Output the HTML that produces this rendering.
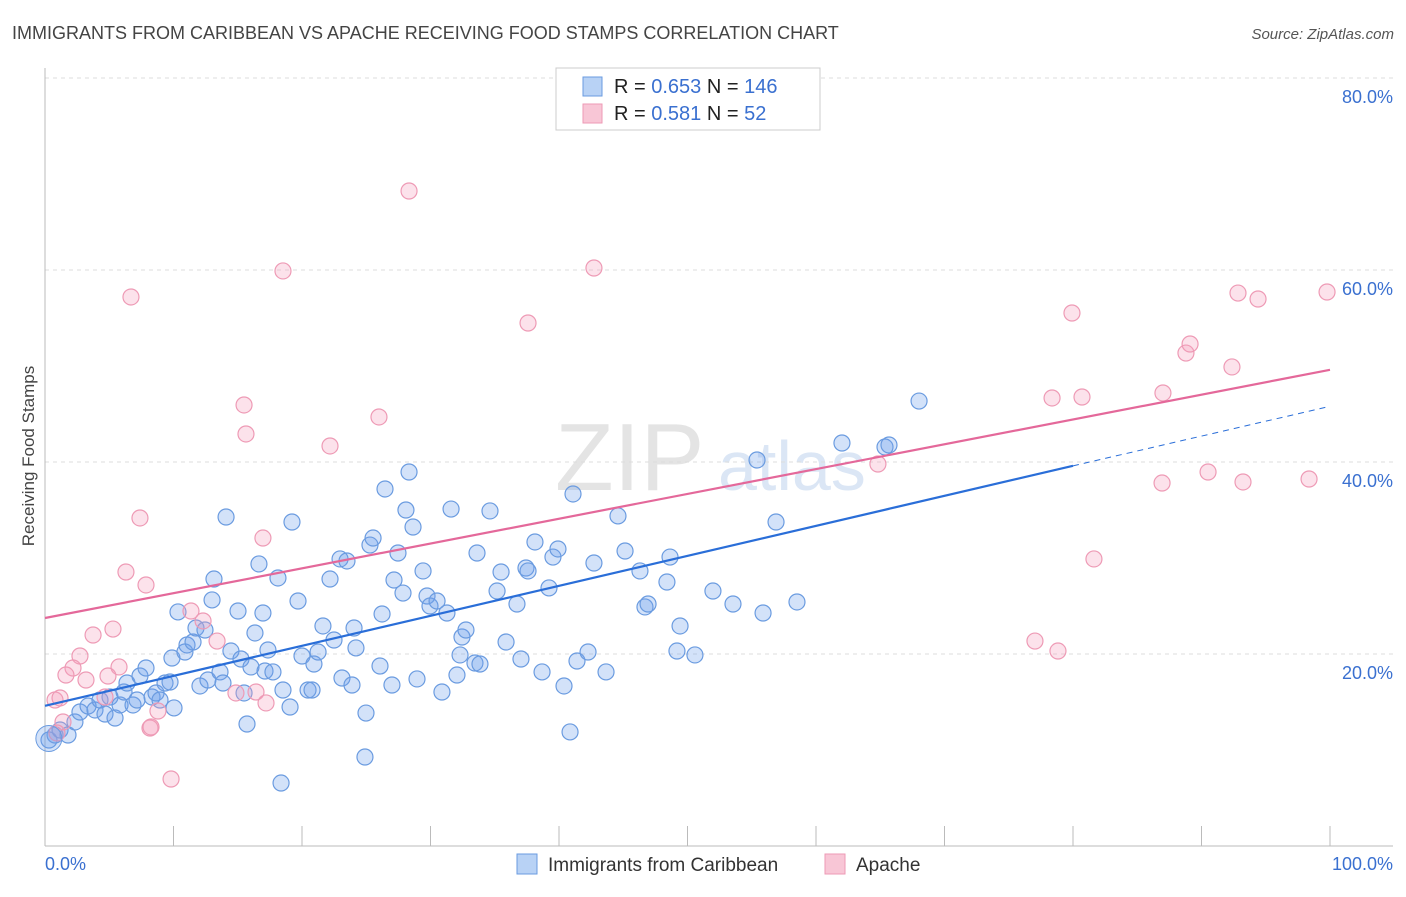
<!DOCTYPE html>
<html><head><meta charset="utf-8"><style>
body{margin:0;background:#fff;font-family:"Liberation Sans",sans-serif}
svg text{font-family:"Liberation Sans",sans-serif}
</style></head><body>
<svg id="c" width="1406" height="892" xmlns="http://www.w3.org/2000/svg">
<text x="12" y="39" font-size="18" fill="#444">IMMIGRANTS FROM CARIBBEAN VS APACHE RECEIVING FOOD STAMPS CORRELATION CHART</text>
<text x="1394" y="39" font-size="15" fill="#555" font-style="italic" text-anchor="end">Source: ZipAtlas.com</text>
<text transform="translate(34,456) rotate(-90)" font-size="17" fill="#444" text-anchor="middle">Receiving Food Stamps</text>
<text x="555" y="490" font-size="96" fill="#e4e4e4" font-family="Liberation Serif">ZIP</text>
<text x="718" y="490" font-size="70" fill="#dbe6f5">atlas</text>
<g id="grid"></g><g id="axes"></g><g id="pts"></g><g id="lines"></g>
<g>
<rect x="556" y="68" width="264" height="62" fill="#fff" stroke="#ccc"/>
<rect x="583" y="77" width="19" height="19" fill="#b8d2f5" stroke="#6a9be0"/>
<rect x="583" y="104" width="19" height="19" fill="#f8c6d6" stroke="#ee9ab5"/>
<text x="614" y="93" font-size="20" fill="#222">R = <tspan fill="#3a70d0">0.653</tspan>   N = <tspan fill="#3a70d0">146</tspan></text>
<text x="614" y="120" font-size="20" fill="#222">R =  <tspan fill="#3a70d0">0.581</tspan>   N =   <tspan fill="#3a70d0">52</tspan></text>
</g>
<g>
<rect x="517" y="854" width="20" height="20" fill="#b8d2f5" stroke="#6a9be0"/>
<text x="548" y="871" font-size="19" fill="#333">Immigrants from Caribbean</text>
<rect x="825" y="854" width="20" height="20" fill="#f8c6d6" stroke="#ee9ab5"/>
<text x="856" y="871" font-size="19" fill="#333">Apache</text>
</g>
<text x="45" y="870" font-size="18" fill="#3a70d0">0.0%</text>
<text x="1393" y="870" font-size="18" fill="#3a70d0" text-anchor="end">100.0%</text>
</svg>
<script>
const yTicks=[20,40,60,80];
const xTicks=[0,10,20,30,40,50,60,70,80,90,100];
const bluePx=[[49,740],[55,735],[60,730],[68,735],[75,722],[80,712],[88,706],[95,710],[100,700],[105,714],[110,697],[115,718],[120,705],[124,692],[127,683],[133,705],[137,700],[140,676],[146,668],[152,697],[156,693],[160,700],[165,683],[170,682],[174,708],[172,658],[178,612],[185,652],[187,645],[193,642],[196,628],[200,686],[205,630],[208,680],[212,600],[214,579],[220,672],[223,683],[226,517],[231,651],[238,611],[241,659],[244,693],[247,724],[251,667],[255,633],[259,564],[263,613],[265,671],[268,650],[273,672],[278,578],[283,690],[290,707],[292,522],[298,601],[302,656],[308,690],[312,690],[314,664],[318,652],[323,626],[330,579],[334,640],[340,559],[342,678],[347,561],[352,685],[354,628],[356,648],[366,713],[365,757],[370,545],[373,538],[380,666],[382,614],[385,489],[392,685],[394,580],[398,553],[403,593],[406,510],[409,472],[413,527],[417,679],[423,571],[427,596],[430,606],[437,601],[442,692],[447,613],[451,509],[457,675],[460,655],[462,637],[466,630],[475,663],[477,553],[480,664],[490,511],[497,591],[501,572],[506,642],[517,604],[521,659],[526,568],[528,571],[535,542],[542,672],[549,588],[553,557],[558,549],[564,686],[570,732],[573,494],[577,661],[588,652],[594,563],[606,672],[618,516],[625,551],[640,571],[645,607],[648,604],[667,582],[670,557],[680,626],[677,651],[695,655],[713,591],[733,604],[757,460],[763,613],[776,522],[797,602],[842,443],[885,447],[889,445],[919,401],[281,783]];
const pinkPx=[[131,297],[283,271],[409,191],[594,268],[528,323],[244,405],[246,434],[379,417],[330,446],[140,518],[263,538],[126,572],[146,585],[93,635],[113,629],[191,611],[203,621],[217,641],[80,656],[73,668],[66,675],[86,680],[119,667],[108,676],[55,700],[60,698],[105,697],[63,722],[57,733],[150,728],[158,711],[236,693],[256,692],[266,703],[171,779],[151,727],[878,464],[1072,313],[1052,398],[1082,397],[1094,559],[1035,641],[1058,651],[1163,393],[1186,353],[1190,344],[1232,367],[1238,293],[1258,299],[1327,292],[1162,483],[1208,472],[1243,482],[1309,479]];
// convert reading to data values (x %, y %)
const blueData=bluePx.map(p=>[+((p[0]-45)/12.85).toFixed(2),+((846-p[1])/9.6).toFixed(2)]);
const pinkData=pinkPx.map(p=>[+((p[0]-45)/12.85).toFixed(2),+((846-p[1])/9.6).toFixed(2)]);
const blueTrend=[[0,14.6],[80,39.6],[100,45.8]];
const pinkTrend=[[0,23.75],[100,49.6]];
const X=v=>45+v*12.85, Y=v=>846-v*9.6;
const NS="http://www.w3.org/2000/svg";
function mk(t,a,parent){const e=document.createElementNS(NS,t);for(const k in a)e.setAttribute(k,a[k]);document.getElementById(parent).appendChild(e);return e;}
yTicks.forEach(v=>{
 const l=mk('line',{x1:45,x2:1393,y1:Y(v),y2:Y(v),stroke:'#ddd','stroke-dasharray':'4,4'},'grid');
 
 
 const t=mk('text',{x:1393,y:Y(v)+25,'font-size':18,fill:'#3a70d0','text-anchor':'end'},'grid');
 t.textContent=v.toFixed(1)+'%';
 
 
});
const ax=mk('line',{x1:45,x2:1393,y1:846,y2:846,stroke:'#bbb'},'axes');


const ay=mk('line',{x1:45,x2:45,y1:68,y2:846,stroke:'#bbb'},'axes');


xTicks.forEach(v=>{
 const l=mk('line',{x1:X(v),x2:X(v),y1:826,y2:846,stroke:'#bbb'},'axes');
 
 
});
blueData.forEach(d=>{
 const c=mk('circle',{cx:X(d[0]),cy:Y(d[1]),r:8,fill:'rgba(110,160,235,0.3)',stroke:'#6a9be0','stroke-width':1.2},'pts');
 
 
});
pinkData.forEach(d=>{
 const c=mk('circle',{cx:X(d[0]),cy:Y(d[1]),r:8,fill:'rgba(245,160,190,0.3)',stroke:'#ee9ab5','stroke-width':1.2},'pts');
 
 
});
const big=mk('circle',{cx:X(0.3),cy:Y(11.2),r:13,fill:'rgba(110,160,235,0.3)',stroke:'#6a9be0'},'pts');


const b1=mk('line',{x1:X(blueTrend[0][0]),y1:Y(blueTrend[0][1]),x2:X(blueTrend[1][0]),y2:Y(blueTrend[1][1]),stroke:'#2a6ed8','stroke-width':2.2},'lines');


const b2=mk('line',{x1:X(blueTrend[1][0]),y1:Y(blueTrend[1][1]),x2:X(blueTrend[2][0]),y2:Y(blueTrend[2][1]),stroke:'#2a6ed8','stroke-width':1,'stroke-dasharray':'6,5'},'lines');


const p1=mk('line',{x1:X(pinkTrend[0][0]),y1:Y(pinkTrend[0][1]),x2:X(pinkTrend[1][0]),y2:Y(pinkTrend[1][1]),stroke:'#e4689a','stroke-width':2.2},'lines');


</script>
</body></html>
